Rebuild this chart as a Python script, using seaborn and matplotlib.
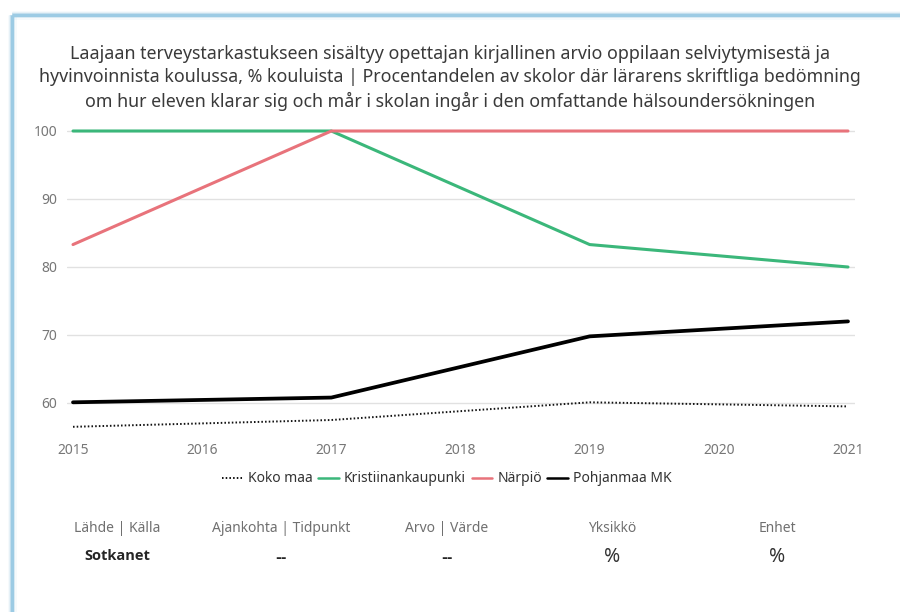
import matplotlib
matplotlib.use("Agg")
import matplotlib.pyplot as plt
from matplotlib.lines import Line2D
import pandas as pd
import seaborn as sns

# Data (% of schools)
years = [2015, 2017, 2019, 2021]
koko_maa = [56.5, 57.5, 60.1, 59.5]
kristiinankaupunki = [100, 100, 83.3, 80.0]
narpio = [83.3, 100, 100, 100]
pohjanmaa = [60.1, 60.8, 69.8, 72.0]

series_names = ["Koko maa", "Kristiinankaupunki", "Närpiö", "Pohjanmaa MK"]
series_values = [koko_maa, kristiinankaupunki, narpio, pohjanmaa]
series_colors = ["#111111", "#3BB77A", "#E8737B", "#000000"]
series_widths = [1.4, 2.2, 2.2, 2.7]

x_ticks = [2015, 2016, 2017, 2018, 2019, 2020, 2021]
y_ticks = [60, 70, 80, 90, 100]

title = ("Laajaan terveystarkastukseen sisältyy opettajan kirjallinen arvio oppilaan selviytymisestä ja\n"
         "hyvinvoinnista koulussa, % kouluista | Procentandelen av skolor där lärarens skriftliga bedömning\n"
         "om hur eleven klarar sig och mår i skolan ingår i den omfattande hälsoundersökningen")

info_headers = ["Lähde | Källa", "Ajankohta | Tidpunkt", "Arvo | Värde", "Yksikkö", "Enhet"]
info_values = ["Sotkanet", "--", "--", "%", "%"]

rows = []
for name, vals in zip(series_names, series_values):
    for yr, v in zip(years, vals):
        rows.append({"Vuosi": yr, "Arvo": v, "Alue": name})
df = pd.DataFrame(rows)

sns.set_theme(style="white")
plt.rcParams["font.family"] = ["Noto Sans", "DejaVu Sans"]

W, H = 900, 612
fig = plt.figure(figsize=(W / 100, H / 100), dpi=100)
fig.patch.set_facecolor("white")

# plot area in pixel coordinates
px_per_year = (848 - 73) / 6
px_per_unit = 6.8
ylo, yhi = 55.8, 100.4
xlo = 2015 - 6 / px_per_year
xhi = 2021 + 7 / px_per_year
top_px = 131 - (yhi - 100) * px_per_unit
bot_px = 131 + (100 - ylo) * px_per_unit
ax = fig.add_axes([67 / W, 1 - bot_px / H, 788 / W, (bot_px - top_px) / H])

palette = dict(zip(series_names, series_colors))
dashes = {"Koko maa": (0.8, 1.1), "Kristiinankaupunki": "", "Närpiö": "", "Pohjanmaa MK": ""}
sns.lineplot(data=df, x="Vuosi", y="Arvo", hue="Alue", style="Alue",
             palette=palette, dashes=dashes, hue_order=series_names,
             ax=ax, legend=False, zorder=3)
for line, lw in zip(ax.get_lines(), series_widths):
    line.set_linewidth(lw)
    line.set_solid_capstyle("round")
    line.set_clip_on(False)

ax.set_xlim(xlo, xhi)
ax.set_ylim(ylo, yhi)
ax.set_xticks(x_ticks)
ax.set_xticklabels([str(t) for t in x_ticks])
ax.set_yticks(y_ticks)
ax.set_xlabel("")
ax.set_ylabel("")
ax.grid(axis="y", color="#E1E1E1", linewidth=1.0, zorder=0)
ax.grid(axis="x", visible=False)
for s in ax.spines.values():
    s.set_visible(False)
ax.tick_params(axis="both", length=0, colors="#777777", labelsize=10)
ax.tick_params(axis="y", pad=7)
ax.tick_params(axis="x", pad=8)

fig.text(450 / W, 1 - 78 / H, title, ha="center", va="center",
         fontsize=12.8, color="#3A3A3A", linespacing=1.38)

# legend
handles = [Line2D([0], [0], color=c, lw=(1.4 if i == 0 else 1.8),
                  linestyle=((0, (0.8, 1.1)) if i == 0 else "-"))
           for i, c in enumerate(series_colors)]
fig.legend(handles, series_names, loc="center", bbox_to_anchor=(447 / W, 1 - 479 / H),
           ncol=4, frameon=False, fontsize=10, handlelength=1.5, handletextpad=0.35,
           columnspacing=0.4, labelcolor="#333333")

# info row
col_x = [117, 281, 447, 612, 777]
for cx, hdr, val in zip(col_x, info_headers, info_values):
    fig.text(cx / W, 1 - 529 / H, hdr, ha="center", va="center", fontsize=10, color="#707070")
    if val == "%":
        fig.text(cx / W, 1 - 557 / H, val, ha="center", va="center", fontsize=14,
                 color="#333333")
    elif val == "--":
        fig.text(cx / W, 1 - 558 / H, val, ha="center", va="center", fontsize=10,
                 color="#252525", fontweight="bold", family=["DejaVu Sans"])
    else:
        fig.text(cx / W, 1 - 556 / H, val, ha="center", va="center", fontsize=10.5,
                 color="#252525", fontweight="bold", family=["Open Sans", "DejaVu Sans"])

# card frame with soft glow
for lw, alpha in [(9, 0.08), (6, 0.15), (4, 0.3)]:
    fig.add_artist(Line2D([11.5 / W, 11.5 / W], [0, 1 - 14.5 / H], color="#8EC3E0",
                          lw=lw * 0.72, alpha=alpha, transform=fig.transFigure, solid_capstyle="butt"))
    fig.add_artist(Line2D([11.5 / W, 1], [1 - 14.5 / H, 1 - 14.5 / H], color="#8EC3E0",
                          lw=lw * 0.72, alpha=alpha, transform=fig.transFigure, solid_capstyle="butt"))
fig.add_artist(Line2D([11.5 / W, 11.5 / W], [0, 1 - 14.5 / H], color="#9CCBE4",
                      lw=2.4, transform=fig.transFigure, solid_capstyle="butt"))
fig.add_artist(Line2D([11.5 / W, 1], [1 - 14.5 / H, 1 - 14.5 / H], color="#9CCBE4",
                      lw=2.4, transform=fig.transFigure, solid_capstyle="butt"))

fig.savefig("out.png", dpi=100)
